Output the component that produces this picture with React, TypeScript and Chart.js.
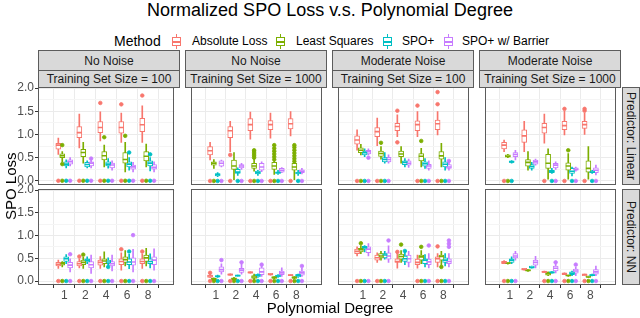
import React, { useEffect, useRef } from 'react';
import { Chart, registerables } from 'chart.js';
Chart.register(...registerables);

const FONT = '"Liberation Sans", Arial, Helvetica, sans-serif';
Chart.defaults.font.family = FONT;

// ---------- labels ----------
const titleText = 'Normalized SPO Loss v.s. Polynomial Degree';
const legendTitle = 'Method';
const degreeLabels = ['1', '2', '4', '6', '8'];
const methodNames = ['Absolute Loss', 'Least Squares', 'SPO+', 'SPO+ w/ Barrier'];
const methodColors = ['#F8766D', '#7CAE00', '#00BFC4', '#C77CFF'];
const noiseStrips = ['No Noise', 'No Noise', 'Moderate Noise', 'Moderate Noise'];
const sizeStrips = ['Training Set Size = 100', 'Training Set Size = 1000', 'Training Set Size = 100', 'Training Set Size = 1000'];
const rowStrips = ['Predictor: Linear', 'Predictor: NN'];
const yTickValues = [0, 0.25, 0.5, 0.75, 1, 1.25, 1.5, 1.75, 2];
const yLabel = 'SPO Loss';
const xLabel = 'Polynomial Degree';

// ---------- data: [whiskerLow, q1, median, q3, whiskerHigh] per degree, per method ----------
// Linear predictor, No noise, n = 100
const linNo100Box = [
  [[0.57, 0.68, 0.77, 0.81, 0.92], [0.71, 0.93, 1.04, 1.17, 1.44], [0.86, 1.04, 1.15, 1.28, 1.49], [0.83, 1.03, 1.15, 1.28, 1.46], [0.83, 1.06, 1.21, 1.35, 1.62]],
  [[0.41, 0.50, 0.54, 0.58, 0.63], [0.38, 0.52, 0.61, 0.68, 0.83], [0.30, 0.45, 0.54, 0.63, 0.77], [0.19, 0.38, 0.46, 0.61, 0.83], [0.30, 0.43, 0.53, 0.63, 0.79]],
  [[0.28, 0.32, 0.36, 0.41, 0.45], [0.28, 0.30, 0.35, 0.40, 0.43], [0.27, 0.32, 0.36, 0.41, 0.48], [0.23, 0.30, 0.36, 0.41, 0.50], [0.21, 0.32, 0.38, 0.43, 0.50]],
  [[0.32, 0.36, 0.41, 0.45, 0.50], [0.28, 0.32, 0.38, 0.41, 0.50], [0.23, 0.28, 0.34, 0.38, 0.43], [0.19, 0.25, 0.30, 0.34, 0.40], [0.19, 0.25, 0.29, 0.35, 0.41]],
];
const linNo100Out = [
  [[2, 1.68], [3, 1.65], [4, 1.84]],
  [[0, 0.77], [0, 0.36], [2, 0.94], [3, 0.97]],
  [[3, 0.61], [4, 0.57]],
  [[1, 0.48]],
];
const linNo100Zero = [[0, 1, 2, 3, 4], [0, 1, 2, 3, 4], [0, 1, 2, 3, 4], [0, 1, 2, 3, 4]];

// Linear predictor, No noise, n = 1000
const linNo1000Box = [
  [[0.45, 0.56, 0.65, 0.74, 0.83], [0.63, 0.93, 1.08, 1.17, 1.28], [0.90, 1.08, 1.21, 1.34, 1.48], [0.92, 1.10, 1.21, 1.30, 1.46], [0.97, 1.12, 1.23, 1.34, 1.49]],
  [[0.27, 0.34, 0.38, 0.41, 0.46], [0.03, 0.25, 0.32, 0.45, 0.61], [0.21, 0.27, 0.32, 0.38, 0.47], [0.14, 0.25, 0.32, 0.40, 0.55], [0.03, 0.23, 0.30, 0.38, 0.52]],
  [[0.09, 0.11, 0.14, 0.16, 0.18], [0.12, 0.16, 0.19, 0.25, 0.28], [0.12, 0.15, 0.18, 0.21, 0.23], [0.14, 0.16, 0.18, 0.19, 0.23], [0.12, 0.15, 0.17, 0.19, 0.23]],
  [[0.30, 0.32, 0.38, 0.43, 0.45], [0.25, 0.28, 0.32, 0.35, 0.38], [0.20, 0.23, 0.30, 0.38, 0.41], [0.18, 0.19, 0.23, 0.27, 0.29], [0.15, 0.18, 0.21, 0.24, 0.27]],
];
const linNo1000Out = [
  [[1, 0.56]],
  [[2, 0.50], [2, 0.54], [2, 0.58], [2, 0.62], [2, 0.66], [3, 0.46], [3, 0.52], [3, 0.58], [3, 0.64], [3, 0.70], [3, 0.77], [4, 0.42], [4, 0.48], [4, 0.54], [4, 0.60], [4, 0.66], [4, 0.72], [4, 0.77]],
  [],
  [],
];
const linNo1000Zero = [[0, 1, 2, 3, 4], [0, 2, 3], [0, 1, 2, 3, 4], [0, 1, 2, 3, 4]];

// Linear predictor, Moderate noise, n = 100
const linMod100Box = [
  [[0.66, 0.79, 0.88, 0.97, 1.10], [0.76, 0.95, 1.06, 1.15, 1.35], [0.95, 1.08, 1.17, 1.24, 1.42], [0.95, 1.08, 1.21, 1.29, 1.49], [0.99, 1.10, 1.23, 1.31, 1.49]],
  [[0.56, 0.61, 0.66, 0.71, 0.79], [0.47, 0.53, 0.59, 0.64, 0.74], [0.38, 0.52, 0.58, 0.64, 0.74], [0.30, 0.43, 0.53, 0.59, 0.70], [0.30, 0.47, 0.54, 0.63, 0.81]],
  [[0.52, 0.56, 0.61, 0.64, 0.69], [0.38, 0.41, 0.46, 0.50, 0.61], [0.30, 0.35, 0.40, 0.43, 0.48], [0.27, 0.32, 0.37, 0.41, 0.48], [0.23, 0.30, 0.36, 0.41, 0.50]],
  [[0.56, 0.58, 0.63, 0.66, 0.69], [0.38, 0.41, 0.46, 0.51, 0.56], [0.29, 0.34, 0.38, 0.43, 0.47], [0.23, 0.27, 0.32, 0.36, 0.43], [0.23, 0.27, 0.30, 0.35, 0.43]],
];
const linMod100Out = [
  [[2, 1.51], [2, 0.83], [3, 1.62], [4, 1.91], [4, 1.65]],
  [[1, 0.82], [3, 0.86]],
  [],
  [[0, 0.50], [4, 0.43]],
];
const linMod100Zero = [[0, 1, 3, 4], [0, 1, 3, 4], [0, 1, 3, 4], [0, 1, 3, 4]];

// Linear predictor, Moderate noise, n = 1000
const linMod1000Box = [
  [[0.63, 0.69, 0.77, 0.83, 0.88], [0.63, 0.83, 0.97, 1.10, 1.28], [0.81, 1.03, 1.15, 1.24, 1.44], [0.99, 1.10, 1.19, 1.28, 1.50], [1.00, 1.13, 1.21, 1.28, 1.46]],
  [[0.50, 0.51, 0.53, 0.56, 0.57], [0.23, 0.32, 0.40, 0.46, 0.63], [0.04, 0.27, 0.38, 0.57, 0.69], [0.04, 0.23, 0.32, 0.39, 0.59], [0.04, 0.19, 0.27, 0.43, 0.74]],
  [[0.38, 0.40, 0.41, 0.43, 0.44], [0.23, 0.27, 0.31, 0.35, 0.40], [0.16, 0.18, 0.21, 0.23, 0.27], [0.11, 0.16, 0.21, 0.27, 0.30], [0.16, 0.18, 0.19, 0.21, 0.23]],
  [[0.45, 0.52, 0.57, 0.61, 0.66], [0.34, 0.36, 0.41, 0.45, 0.47], [0.25, 0.28, 0.34, 0.38, 0.41], [0.21, 0.23, 0.25, 0.28, 0.30], [0.13, 0.18, 0.23, 0.28, 0.34]],
];
const linMod1000Out = [
  [[3, 1.55], [4, 1.55], [4, 1.51]],
  [[3, 0.66]],
  [],
  [],
];
const linMod1000Zero = [[0, 2, 3, 4], [0], [0, 2, 3, 4], [2, 3, 4]];

// NN predictor, No noise, n = 100
const nnNo100Box = [
  [[0.28, 0.33, 0.37, 0.41, 0.46], [0.29, 0.33, 0.38, 0.43, 0.49], [0.28, 0.35, 0.41, 0.46, 0.54], [0.24, 0.36, 0.43, 0.49, 0.62], [0.28, 0.38, 0.43, 0.49, 0.60]],
  [[0.31, 0.35, 0.38, 0.41, 0.43], [0.28, 0.36, 0.41, 0.46, 0.52], [0.31, 0.38, 0.44, 0.49, 0.64], [0.33, 0.41, 0.47, 0.53, 0.67], [0.33, 0.43, 0.51, 0.57, 0.72]],
  [[0.38, 0.43, 0.49, 0.53, 0.58], [0.38, 0.42, 0.46, 0.49, 0.53], [0.33, 0.38, 0.42, 0.46, 0.51], [0.27, 0.36, 0.42, 0.49, 0.59], [0.29, 0.38, 0.43, 0.49, 0.60]],
  [[0.20, 0.29, 0.35, 0.41, 0.49], [0.17, 0.29, 0.36, 0.43, 0.57], [0.22, 0.33, 0.38, 0.43, 0.57], [0.20, 0.35, 0.42, 0.51, 0.70], [0.24, 0.36, 0.46, 0.53, 0.71]],
];
const nnNo100Out = [
  [[1, 0.54], [3, 0.70], [4, 0.65]],
  [[1, 0.58]],
  [[2, 0.31], [3, 0.65]],
  [[0, 0.59], [3, 1.01]],
];
const nnNo100Zero = [[0, 1, 2, 3, 4], [0, 1, 2, 3, 4], [0, 1, 2, 3, 4], [0, 1, 2, 3, 4]];

// NN predictor, No noise, n = 1000
const nnNo1000Box = [
  [[0.08, 0.08, 0.11, 0.13, 0.15], [0.13, 0.13, 0.14, 0.16, 0.16], [0.17, 0.17, 0.19, 0.20, 0.20], [0.13, 0.13, 0.15, 0.17, 0.17], [0.12, 0.12, 0.13, 0.14, 0.14]],
  [[0.00, 0.01, 0.04, 0.06, 0.07], [0.02, 0.03, 0.05, 0.07, 0.08], [0.02, 0.06, 0.09, 0.12, 0.15], [0.05, 0.06, 0.08, 0.09, 0.10], [0.05, 0.06, 0.08, 0.09, 0.10]],
  [[0.08, 0.09, 0.10, 0.12, 0.13], [0.10, 0.10, 0.12, 0.13, 0.13], [0.08, 0.09, 0.13, 0.14, 0.16], [0.08, 0.09, 0.11, 0.13, 0.14], [0.08, 0.09, 0.13, 0.14, 0.15]],
  [[0.15, 0.20, 0.25, 0.31, 0.38], [0.15, 0.19, 0.24, 0.28, 0.37], [0.10, 0.14, 0.20, 0.29, 0.38], [0.10, 0.14, 0.18, 0.22, 0.29], [0.10, 0.13, 0.18, 0.22, 0.28]],
];
const nnNo1000Out = [
  [[0, 0.18]],
  [],
  [],
  [[0, 0.46], [1, 0.41], [2, 0.36], [4, 0.33]],
];
const nnNo1000Zero = [[0, 1, 2, 3, 4], [0, 1, 2, 3, 4], [0, 1, 2, 3, 4], [0, 1, 2, 3, 4]];

// NN predictor, Moderate noise, n = 100
const nnMod100Box = [
  [[0.55, 0.60, 0.65, 0.70, 0.75], [0.41, 0.46, 0.51, 0.57, 0.62], [0.28, 0.41, 0.43, 0.49, 0.60], [0.28, 0.36, 0.41, 0.48, 0.57], [0.31, 0.41, 0.49, 0.53, 0.60]],
  [[0.60, 0.64, 0.69, 0.72, 0.78], [0.46, 0.51, 0.55, 0.60, 0.65], [0.41, 0.48, 0.54, 0.59, 0.67], [0.38, 0.46, 0.53, 0.57, 0.67], [0.36, 0.46, 0.54, 0.57, 0.65]],
  [[0.64, 0.70, 0.73, 0.76, 0.78], [0.48, 0.51, 0.57, 0.60, 0.65], [0.36, 0.43, 0.49, 0.55, 0.65], [0.31, 0.38, 0.46, 0.49, 0.58], [0.33, 0.41, 0.46, 0.51, 0.60]],
  [[0.55, 0.62, 0.70, 0.75, 0.82], [0.41, 0.48, 0.55, 0.62, 0.77], [0.31, 0.41, 0.49, 0.57, 0.65], [0.29, 0.36, 0.42, 0.48, 0.60], [0.31, 0.38, 0.43, 0.49, 0.60]],
];
const nnMod100Out = [
  [[2, 0.64], [4, 0.76]],
  [[0, 0.83], [2, 0.80], [3, 0.75], [4, 0.31]],
  [[2, 0.66]],
  [[1, 0.89], [3, 0.78], [4, 0.82], [4, 0.75], [4, 0.89]],
];
const nnMod100Zero = [[0, 1, 3, 4], [0, 1, 3, 4], [0, 1, 3, 4], [0, 1, 3, 4]];

// NN predictor, Moderate noise, n = 1000
const nnMod1000Box = [
  [[0.38, 0.38, 0.41, 0.43, 0.45], [0.24, 0.24, 0.26, 0.28, 0.28], [0.19, 0.19, 0.20, 0.22, 0.22], [0.14, 0.14, 0.16, 0.18, 0.18], [0.12, 0.12, 0.14, 0.15, 0.15]],
  [[0.37, 0.38, 0.39, 0.41, 0.41], [0.21, 0.22, 0.23, 0.25, 0.25], [0.12, 0.13, 0.16, 0.19, 0.20], [0.10, 0.11, 0.12, 0.13, 0.13], [0.08, 0.09, 0.09, 0.11, 0.11]],
  [[0.38, 0.41, 0.46, 0.49, 0.53], [0.28, 0.29, 0.30, 0.33, 0.33], [0.17, 0.17, 0.19, 0.20, 0.21], [0.12, 0.14, 0.17, 0.20, 0.22], [0.11, 0.12, 0.13, 0.14, 0.15]],
  [[0.46, 0.51, 0.55, 0.60, 0.65], [0.29, 0.35, 0.41, 0.46, 0.54], [0.18, 0.22, 0.28, 0.33, 0.38], [0.12, 0.17, 0.22, 0.26, 0.30], [0.12, 0.15, 0.20, 0.25, 0.33]],
];
const nnMod1000Out = [
  [],
  [],
  [],
  [[2, 0.41], [3, 0.36]],
];
const nnMod1000Zero = [[0, 2, 3, 4], [0, 2, 3, 4], [0, 2, 3, 4], [0, 2, 3, 4]];

const panelBoxes = [
  [linNo100Box, linNo1000Box, linMod100Box, linMod1000Box],
  [nnNo100Box, nnNo1000Box, nnMod100Box, nnMod1000Box],
];
const panelOutliers = [
  [linNo100Out, linNo1000Out, linMod100Out, linMod1000Out],
  [nnNo100Out, nnNo1000Out, nnMod100Out, nnMod1000Out],
];
const panelZeros = [
  [linNo100Zero, linNo1000Zero, linMod100Zero, linMod1000Zero],
  [nnNo100Zero, nnNo1000Zero, nnMod100Zero, nnMod1000Zero],
];

// ---------- layout ----------
const PANEL_LEFT = 38;
const PANEL_W = 142;
const PANEL_STEP = 147;
const ROW_TOP = [87, 189];
const ROW_H = [98, 96];
const Y_AXIS_W = 38;
const X_AXIS_H = 16;
const PAD = 8;
const DODGE = 0.1875;

const isMajor = (v: number) => Math.abs(v * 2 - Math.round(v * 2)) < 1e-9;

const borderPlugin = {
  id: 'panelBorder',
  afterDraw(chart: any) {
    const { ctx, chartArea: a } = chart;
    ctx.save();
    ctx.strokeStyle = '#5c5c5c';
    ctx.lineWidth = 1;
    ctx.strokeRect(Math.round(a.left) + 0.5, Math.round(a.top) + 0.5, Math.round(a.right - a.left) - 1, Math.round(a.bottom - a.top) - 1);
    ctx.restore();
  },
};

function Panel({ r, c }: { r: number; c: number }) {
  const ref = useRef<HTMLCanvasElement>(null);
  const left = c === 0 ? 0 : PANEL_LEFT + c * PANEL_STEP;
  const width = c === 0 ? Y_AXIS_W + PANEL_W : PANEL_W;
  const top = ROW_TOP[r] - PAD;
  const height = PAD + ROW_H[r] + (r === 1 ? X_AXIS_H : PAD);

  useEffect(() => {
    const boxes = panelBoxes[r][c];
    const outs = panelOutliers[r][c];
    const zeros = panelZeros[r][c];
    const datasets: any[] = [];
    methodColors.forEach((col, m) => {
      const off = (m - 1.5) * DODGE;
      datasets.push({
        type: 'bar', label: methodNames[m] + ' whisker',
        data: boxes[m].map((b, i) => ({ x: i + off, y: [b[0], b[4]] })),
        backgroundColor: col, borderWidth: 0, barThickness: 1, grouped: false, order: 4,
      });
      datasets.push({
        type: 'bar', label: methodNames[m],
        data: boxes[m].map((b, i) => ({ x: i + off, y: [b[1], b[3]] })),
        backgroundColor: '#ffffff', borderColor: col, borderWidth: 1, borderSkipped: false,
        barThickness: 5, grouped: false, order: 3,
      });
      datasets.push({
        type: 'scatter', label: methodNames[m] + ' median',
        data: boxes[m].map((b, i) => ({ x: i + off, y: b[2] })),
        pointStyle: 'line', pointRadius: 2.5, pointBorderColor: col, pointBorderWidth: 1.6,
        pointBackgroundColor: col, order: 2,
      });
      const pts = [
        ...zeros[m].map((i) => ({ x: i + off, y: 0 })),
        ...outs[m].map(([i, v]) => ({ x: i + off, y: v })),
      ];
      datasets.push({
        type: 'scatter', label: methodNames[m] + ' outliers',
        data: pts, pointStyle: 'circle', pointRadius: 1.8, pointBackgroundColor: col,
        pointBorderColor: col, pointBorderWidth: 0.8, order: 1,
      });
    });

    const chart = new Chart(ref.current as HTMLCanvasElement, {
      type: 'bar',
      data: { datasets },
      plugins: [borderPlugin],
      options: {
        animation: false,
        responsive: false,
        devicePixelRatio: 1,
        events: [],
        layout: { padding: { top: PAD, bottom: r === 1 ? 0 : PAD, left: 0, right: 0 } },
        plugins: { legend: { display: false }, tooltip: { enabled: false }, title: { display: false } },
        scales: {
          x: {
            type: 'linear', min: -0.6, max: 4.6, bounds: 'data',
            afterBuildTicks: (s: any) => { s.ticks = degreeLabels.map((_, i) => ({ value: i })); },
            afterFit: (s: any) => { s.height = r === 1 ? X_AXIS_H : 0; },
            ticks: {
              display: r === 1, autoSkip: false, maxRotation: 0, padding: 0, color: '#4D4D4D',
              font: { family: FONT, size: 12 },
              callback: (v: any) => degreeLabels[v] ?? '',
            },
            grid: { color: '#EBEBEB', lineWidth: 1, drawTicks: r === 1, tickLength: 3, tickColor: '#333333' },
            border: { display: false },
          },
          y: {
            type: 'linear', min: -0.087, max: 2.02, bounds: 'data',
            afterBuildTicks: (s: any) => { s.ticks = yTickValues.map((v) => ({ value: v })); },
            afterFit: (s: any) => { s.width = c === 0 ? Y_AXIS_W : 0; },
            ticks: {
              display: c === 0, autoSkip: false, padding: 1, color: '#4D4D4D',
              font: { family: FONT, size: 12 },
              callback: (v: any) => (isMajor(v) ? Number(v).toFixed(1) : ''),
            },
            grid: {
              color: (ctx: any) => (ctx.tick && isMajor(ctx.tick.value) ? '#EBEBEB' : '#F5F5F5'),
              lineWidth: 1,
              drawTicks: c === 0,
              tickLength: 3,
              tickColor: (ctx: any) => (ctx.tick && isMajor(ctx.tick.value) ? '#333333' : 'rgba(0,0,0,0)'),
            },
            border: { display: false },
          },
        },
      } as any,
    });
    return () => chart.destroy();
  }, [r, c]);

  return (
    <canvas
      ref={ref}
      width={width}
      height={height}
      style={{ position: 'absolute', left, top, width, height }}
    />
  );
}

const stripStyle: React.CSSProperties = {
  position: 'absolute',
  boxSizing: 'border-box',
  background: '#D9D9D9',
  border: '1px solid #5c5c5c',
  color: '#1A1A1A',
  fontSize: 12,
  fontFamily: FONT,
  display: 'flex',
  alignItems: 'center',
  justifyContent: 'center',
  whiteSpace: 'nowrap',
  overflow: 'hidden',
};

function LegendKey({ left, color }: { left: number; color: string }) {
  return (
    <div style={{ position: 'absolute', left, top: 33, width: 17, height: 17 }}>
      <div style={{ position: 'absolute', left: 8, top: 1, width: 1, height: 15, background: color }} />
      <div style={{ position: 'absolute', left: 4, top: 4, width: 9, height: 9, boxSizing: 'border-box', border: `1px solid ${color}`, background: '#fff' }} />
      <div style={{ position: 'absolute', left: 4, top: 8, width: 9, height: 1.5, background: color }} />
    </div>
  );
}

export default function App() {
  const keyLefts = [168, 272, 379, 440];
  const labelLefts = [192, 296, 402, 462];
  return (
    <div style={{ position: 'absolute', left: 0, top: 0, width: 640, height: 318, background: '#fff', fontFamily: FONT, overflow: 'hidden' }}>
      <div style={{ position: 'absolute', left: 80, width: 500, top: 0, textAlign: 'center', fontSize: 18, lineHeight: '21px', color: '#000' }}>{titleText}</div>
      <div style={{ position: 'absolute', left: 114, top: 33, fontSize: 14, lineHeight: '17px', color: '#000' }}>{legendTitle}</div>
      {methodNames.map((name, m) => (
        <React.Fragment key={name}>
          <LegendKey left={keyLefts[m]} color={methodColors[m]} />
          <div style={{ position: 'absolute', left: labelLefts[m], top: 34, fontSize: 12, lineHeight: '15px', color: '#000', whiteSpace: 'nowrap' }}>{name}</div>
        </React.Fragment>
      ))}
      {noiseStrips.map((t, c) => (
        <div key={'n' + c} style={{ ...stripStyle, left: PANEL_LEFT + c * PANEL_STEP, top: 50, width: PANEL_W, height: 21 }}>{t}</div>
      ))}
      {sizeStrips.map((t, c) => (
        <div key={'s' + c} style={{ ...stripStyle, left: PANEL_LEFT + c * PANEL_STEP, top: 70, width: PANEL_W, height: 18 }}>{t}</div>
      ))}
      {rowStrips.map((t, r) => (
        <div key={'r' + r} style={{ ...stripStyle, left: 622, top: ROW_TOP[r], width: 18, height: ROW_H[r], writingMode: 'vertical-rl' }}>{t}</div>
      ))}
      {[0, 1].map((r) => [0, 1, 2, 3].map((c) => <Panel key={r + '-' + c} r={r} c={c} />))}
      <div style={{ position: 'absolute', left: 2, top: 136, width: 17, height: 100, writingMode: 'vertical-rl', transform: 'rotate(180deg)', textAlign: 'center', fontSize: 15, lineHeight: '17px', color: '#000', whiteSpace: 'nowrap' }}>{yLabel}</div>
      <div style={{ position: 'absolute', left: 230, width: 200, top: 299, textAlign: 'center', fontSize: 15, lineHeight: '18px', color: '#000' }}>{xLabel}</div>
    </div>
  );
}
